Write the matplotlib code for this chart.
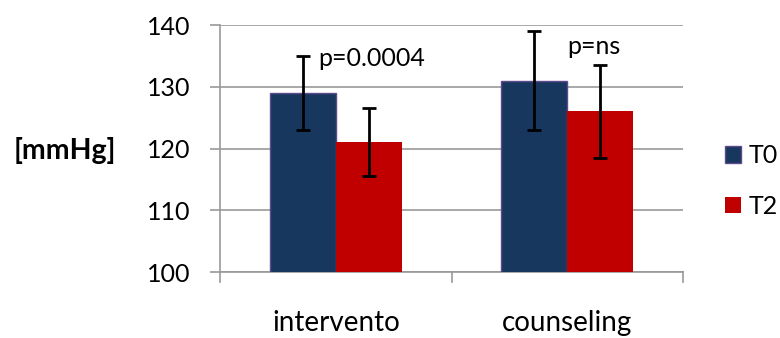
import numpy as np
import matplotlib
matplotlib.use("Agg")
import matplotlib.pyplot as plt

# mean blood pressure per group, baseline (T0) and follow-up (T2)
groups = ["intervento", "counseling"]
t0_mean = [129, 131]
t2_mean = [121, 126]
t0_err = [6, 8]
t2_err = [5.5, 7.5]
p_labels = ["p=0.0004", "p=ns"]
p_label_x = [-0.075, 0.998]
p_label_y = [134.5, 136.6]

plt.rcParams['font.family'] = ['Lato', 'DejaVu Sans']

fig = plt.figure(figsize=(7.8, 3.38), dpi=100)
ax = fig.add_axes([0.282, 0.195, 0.594, 0.731])

x = np.arange(len(groups))
w = 0.285
ax.bar(x - w/2, t0_mean, w, color="#17375E", edgecolor="#5F4B8B",
       linewidth=1.0, label="T0", zorder=3)
ax.bar(x + w/2, t2_mean, w, color="#C00000", label="T2", zorder=3)
ax.errorbar(x - w/2, t0_mean, yerr=t0_err, fmt="none", ecolor="black",
            elinewidth=2, capsize=5, capthick=2, zorder=4)
ax.errorbar(x + w/2, t2_mean, yerr=t2_err, fmt="none", ecolor="black",
            elinewidth=2, capsize=5, capthick=2, zorder=4)

for i, txt in enumerate(p_labels):
    ax.text(p_label_x[i], p_label_y[i], txt, ha="left", va="center",
            fontsize=18, zorder=5)

ax.set_xlim(-0.5, 1.5)
ax.set_ylim(100, 140)
ax.set_yticks([100, 110, 120, 130, 140])
ax.set_xticks(x)
ax.set_xticklabels(groups, fontsize=20)
ax.tick_params(axis="y", labelsize=18, length=7.2, color="#999999", width=1.2, pad=14)
ax.tick_params(axis="x", length=0, pad=27)
# category boundary ticks
for b in [-0.5, 0.5, 1.5]:
    ax.plot([b, b], [100, 98.4], color="#999999", lw=1.2, clip_on=False)

ax.grid(axis="y", color="#999999", lw=1.2, zorder=0)
for s in ["top", "right"]:
    ax.spines[s].set_visible(False)
ax.spines["left"].set_color("#999999")
ax.spines["bottom"].set_color("#999999")
ax.spines["left"].set_linewidth(1.2)
ax.spines["bottom"].set_linewidth(1.2)

fig.text(0.083, 0.556, "[mmHg]", fontsize=20.5, fontweight="bold", ha="center", va="center")

ax.legend(loc="center left", bbox_to_anchor=(1.089, 0.368), frameon=False,
          fontsize=18, handlelength=0.65, handleheight=0.65, labelspacing=1.1,
          handletextpad=0.3, borderpad=0, borderaxespad=0)

fig.savefig("out.png", dpi=100)
